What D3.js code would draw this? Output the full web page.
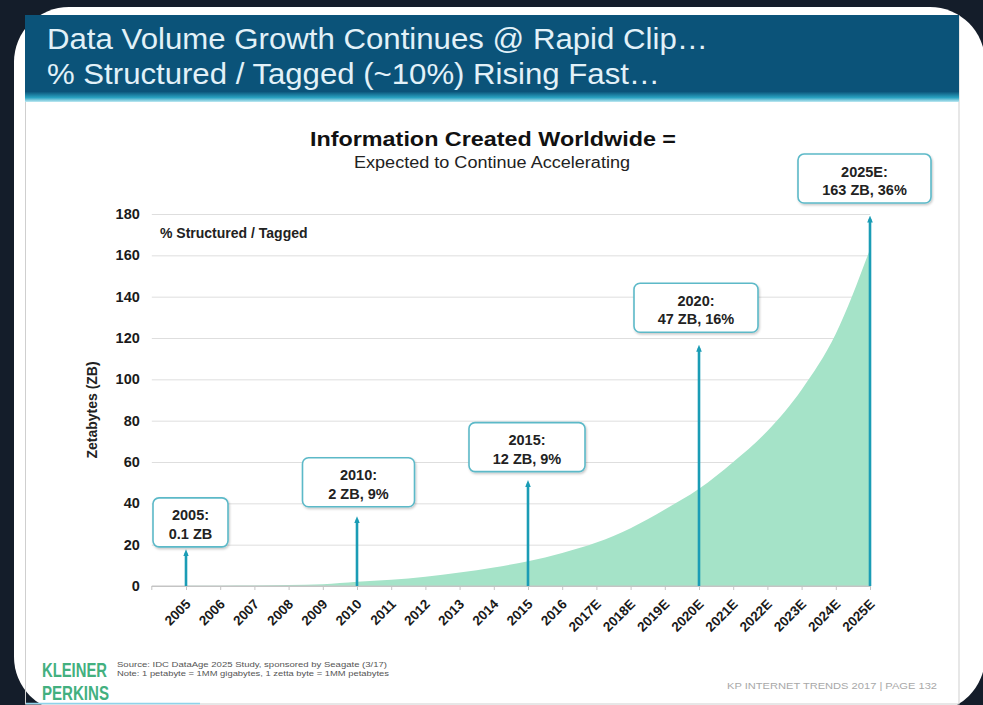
<!DOCTYPE html>
<html>
<head>
<meta charset="utf-8">
<script src="https://cdn.jsdelivr.net/npm/d3@7"></script>
<style>
  html, body { margin: 0; padding: 0; background: #141d2a; }
  svg { display: block; }
  text { font-family: "Liberation Sans", Arial, Helvetica, sans-serif; }
</style>
</head>
<body>
<svg id="chart" width="983" height="705"></svg>
<script>
// ---- data ----------------------------------------------------------
const years = ["2005","2006","2007","2008","2009","2010","2011","2012","2013","2014",
               "2015","2016","2017E","2018E","2019E","2020E","2021E","2022E","2023E","2024E","2025E"];
const zettabytes = [0.1, 0.15, 0.25, 0.45, 0.8, 2, 3, 4.5, 6.5, 9,
                    12, 16, 21, 28, 37, 47, 60, 75, 95, 122, 163];
const yTicks = [0, 20, 40, 60, 80, 100, 120, 140, 160, 180];

// callouts: which year, box text, and how high (in ZB) the arrow reaches
const calloutYears  = ["2005", "2010", "2015", "2020E", "2025E"];
const calloutTitles = ["2005:", "2010:", "2015:", "2020:", "2025E:"];
const calloutValues = ["0.1 ZB", "2 ZB, 9%", "12 ZB, 9%", "47 ZB, 16%", "163 ZB, 36%"];
const arrowReach    = [17.5, 33.5, 51, 116.5, 179];

const titleLines = ["Data Volume Growth Continues @ Rapid Clip\u2026",
                    "% Structured / Tagged (~10%) Rising Fast\u2026"];
const chartTitle = "Information Created Worldwide =";
const chartSubtitle = "Expected to Continue Accelerating";
const seriesLabel = "% Structured / Tagged";
const yAxisTitle = "Zetabytes (ZB)";
const sourceLines = ["Source: IDC DataAge 2025 Study, sponsored by Seagate (3/17)",
                     "Note: 1 petabyte = 1MM gigabytes, 1 zetta byte = 1MM petabytes"];
const brandLines = ["KLEINER", "PERKINS"];
const footerRight = "KP INTERNET TRENDS 2017  |  PAGE 132";

// ---- callout box layout (width, horizontal nudge, gap above arrow tip) ----
const boxWidths = [75, 112, 116, 124, 133];
const boxNudge  = [4.5, 1.5, -1, -3, -5.5];
const boxGap    = [3, 10, 9, 13, 13];

// ---- page frame ------------------------------------------------------
const svg = d3.select("#chart");
const defs = svg.append("defs");

const hdrGrad = defs.append("linearGradient").attr("id", "hdrEdge")
  .attr("x1", 0).attr("y1", 0).attr("x2", 0).attr("y2", 1);
hdrGrad.append("stop").attr("offset", "0%").attr("stop-color", "#0b5379");
hdrGrad.append("stop").attr("offset", "88%").attr("stop-color", "#0b5379");
hdrGrad.append("stop").attr("offset", "95%").attr("stop-color", "#2aa3c2");
hdrGrad.append("stop").attr("offset", "100%").attr("stop-color", "#bfe9f2");

const shadow = defs.append("filter").attr("id", "boxShadow")
  .attr("x", "-10%").attr("y", "-10%").attr("width", "130%").attr("height", "140%");
shadow.append("feDropShadow").attr("dx", 1).attr("dy", 1.5).attr("stdDeviation", 1.2)
  .attr("flood-color", "#000").attr("flood-opacity", 0.22);

defs.append("marker").attr("id", "arrowHead")
  .attr("viewBox", "0 0 10 10").attr("refX", 5).attr("refY", 5)
  .attr("markerUnits", "userSpaceOnUse")
  .attr("markerWidth", 7).attr("markerHeight", 7).attr("orient", "auto")
  .append("path").attr("d", "M0,1 L10,5 L0,9 Z").attr("fill", "#1a9cb5");

// white rounded card
svg.append("rect").attr("x", 14).attr("y", 7).attr("width", 971).attr("height", 705)
  .attr("rx", 55).attr("fill", "#ffffff");

// slide border
svg.append("rect").attr("x", 25.5).attr("y", 15.5).attr("width", 933.5).attr("height", 688.5)
  .attr("fill", "none").attr("stroke", "#cfcfcf").attr("stroke-width", 1);
svg.append("line").attr("x1", 26).attr("x2", 200).attr("y1", 703.5).attr("y2", 703.5)
  .attr("stroke", "#8fd3ea").attr("stroke-width", 1.5);

// header band
svg.append("rect").attr("x", 25).attr("y", 15).attr("width", 934).attr("height", 87)
  .attr("fill", "url(#hdrEdge)");
svg.selectAll("text.hdr").data(titleLines).join("text").attr("class", "hdr")
  .attr("x", 47).attr("y", (d, i) => 48.5 + i * 35)
  .attr("font-size", 29).attr("fill", "#e2f1f8")
  .attr("textLength", (d, i) => i === 0 ? 661 : 613)
  .attr("lengthAdjust", "spacingAndGlyphs")
  .text(d => d);

// chart titles
svg.append("text").attr("x", 493).attr("y", 146).attr("text-anchor", "middle")
  .attr("font-size", 21).attr("font-weight", "bold").attr("fill", "#111")
  .attr("textLength", 366).attr("lengthAdjust", "spacingAndGlyphs")
  .text(chartTitle);
svg.append("text").attr("x", 492).attr("y", 168).attr("text-anchor", "middle")
  .attr("font-size", 16).attr("fill", "#222")
  .attr("textLength", 276).attr("lengthAdjust", "spacingAndGlyphs")
  .text(chartSubtitle);

// ---- scales ----------------------------------------------------------
const x = d3.scalePoint().domain(years).range([186, 870]);
const y = d3.scaleLinear().domain([0, 180]).range([586, 214]);
const plotLeft = x.range()[0] - x.step();
const plotRight = x.range()[1];

// gridlines + y labels
const yAxis = svg.append("g").attr("transform", `translate(${plotLeft},0)`)
  .call(d3.axisLeft(y).tickValues(yTicks).tickSize(-(plotRight - plotLeft)).tickPadding(12));
yAxis.select(".domain").remove();
yAxis.selectAll(".tick line").attr("stroke", d => d === 0 ? "#c4c4c4" : "#dedede").attr("stroke-width", 1);
yAxis.selectAll(".tick text").attr("font-size", 14.5).attr("font-weight", "bold")
  .attr("fill", "#1a1a1a").attr("font-family", "Liberation Sans, Arial, sans-serif");

// y axis title
svg.append("text").attr("transform", "translate(97,410) rotate(-90)")
  .attr("text-anchor", "middle").attr("font-size", 14).attr("font-weight", "bold")
  .attr("fill", "#222").text(yAxisTitle);

// series label
svg.append("text").attr("x", 160).attr("y", 237.5)
  .attr("font-size", 14).attr("font-weight", "bold").attr("fill", "#222")
  .text(seriesLabel);

// ---- area ------------------------------------------------------------
const series = years.map((yr, i) => ({ yr, v: zettabytes[i] }));
const area = d3.area().x(d => x(d.yr)).y0(y(0)).y1(d => y(d.v)).curve(d3.curveMonotoneX);
svg.append("path").datum(series).attr("d", area).attr("fill", "#a5e3c8");

// ---- x axis ----------------------------------------------------------
const xAxis = svg.append("g").attr("transform", `translate(0,${y(0)})`)
  .call(d3.axisBottom(x).tickSizeInner(4).tickSizeOuter(0));
xAxis.select(".domain").remove();
xAxis.append("line").attr("x1", plotLeft).attr("x2", plotRight).attr("stroke", "#c4c4c4");
xAxis.append("line").attr("x1", plotLeft).attr("x2", plotLeft).attr("y2", 4).attr("stroke", "#c4c4c4");
xAxis.selectAll(".tick line").attr("stroke", "#c4c4c4");
xAxis.selectAll(".tick text")
  .attr("x", 0).attr("y", 0).attr("dy", 0)
  .attr("transform", "translate(5,19) rotate(-45)")
  .attr("text-anchor", "end")
  .attr("font-size", 13.5).attr("font-weight", "bold").attr("fill", "#1a1a1a")
  .attr("font-family", "Liberation Sans, Arial, sans-serif");

// ---- callout arrows and boxes -----------------------------------------
const callouts = calloutYears.map((yr, i) => ({
  yr, title: calloutTitles[i], value: calloutValues[i], reach: arrowReach[i],
  w: boxWidths[i], dx: boxNudge[i], gap: boxGap[i]
}));

svg.selectAll("line.arrow").data(callouts).join("line").attr("class", "arrow")
  .attr("x1", d => x(d.yr)).attr("x2", d => x(d.yr))
  .attr("y1", y(0)).attr("y2", d => y(d.reach) + 3)
  .attr("stroke", "#1a9cb5").attr("stroke-width", 2.6)
  .attr("marker-end", "url(#arrowHead)");

const boxH = 49;
const box = svg.selectAll("g.callout").data(callouts).join("g").attr("class", "callout")
  .attr("transform", d => `translate(${x(d.yr) + d.dx - d.w / 2},${y(d.reach) - d.gap - boxH})`);
box.append("rect").attr("width", d => d.w).attr("height", boxH).attr("rx", 6)
  .attr("fill", "#ffffff").attr("stroke", "#5cb9c8").attr("stroke-width", 1.6)
  .attr("filter", "url(#boxShadow)");
box.append("text").attr("x", d => d.w / 2).attr("y", 22.5).attr("text-anchor", "middle")
  .attr("font-size", 14.5).attr("font-weight", "bold").attr("fill", "#222")
  .text(d => d.title);
box.append("text").attr("x", d => d.w / 2).attr("y", 41).attr("text-anchor", "middle")
  .attr("font-size", 14.5).attr("font-weight", "bold").attr("fill", "#222")
  .text(d => d.value);

// ---- footer ----------------------------------------------------------
svg.selectAll("text.brand").data(brandLines).join("text").attr("class", "brand")
  .attr("x", 42).attr("y", (d, i) => 677 + i * 23)
  .attr("fill", "#43b07f")
  .attr("font-family", "Liberation Sans Narrow, Liberation Sans, Arial, sans-serif")
  .attr("font-weight", "bold").attr("font-size", 20.5)
  .attr("textLength", (d, i) => i === 0 ? 65 : 67)
  .attr("lengthAdjust", "spacingAndGlyphs")
  .text(d => d);

svg.selectAll("text.src").data(sourceLines).join("text").attr("class", "src")
  .attr("x", 117).attr("y", (d, i) => 667 + i * 9)
  .attr("font-size", 7).attr("fill", "#555")
  .attr("textLength", (d, i) => i === 0 ? 270 : 272)
  .attr("lengthAdjust", "spacingAndGlyphs")
  .text(d => d);

svg.append("text").attr("x", 937).attr("y", 689).attr("text-anchor", "end")
  .attr("font-size", 8.5).attr("fill", "#a8a8a8")
  .attr("textLength", 210).attr("lengthAdjust", "spacingAndGlyphs")
  .text(footerRight);
</script>
</body>
</html>
